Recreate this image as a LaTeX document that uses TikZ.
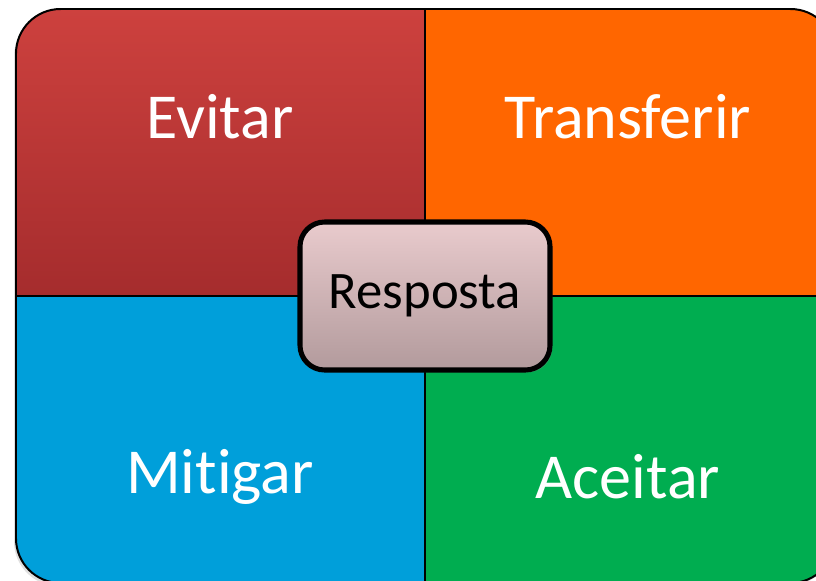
\documentclass[tikz,border=0pt]{standalone}
\usepackage{fontspec}
\setmainfont{Carlito}[RawFeature=-liga]
\usetikzlibrary{shadows}
\definecolor{evitartop}{RGB}{205,65,62}
\definecolor{evitarbottom}{RGB}{165,44,45}
\definecolor{transforange}{RGB}{255,102,0}
\definecolor{mitigblue}{RGB}{0,159,218}
\definecolor{aceitgreen}{RGB}{0,173,80}
\definecolor{resptop}{RGB}{233,203,205}
\definecolor{respbottom}{RGB}{178,154,156}

\tikzset{
    quadlabel/.style={text=white, font=\fontsize{54.7}{62}\selectfont},
    centerbox/.style={draw=black, line width=4.3pt, rounded corners=21pt,
        top color=resptop, bottom color=respbottom,
        minimum width=7.5cm, minimum height=4.44cm,
        drop shadow={shadow xshift=2pt, shadow yshift=-2pt, opacity=0.35},
        font=\fontsize{45}{52}\selectfont}
}

\begin{document}
\begin{tikzpicture}[x=0.03cm, y=-0.03cm]
    \useasboundingbox (0,0) rectangle (816,580);

    % soft shadow under the whole matrix
    \fill[black!12, rounded corners=38pt] (14,12) rectangle (833,586);

    % the four quadrants, clipped to one rounded outline
    \begin{scope}
        \clip[rounded corners=38pt] (16,9) rectangle (835,583);
        \shade[top color=evitartop, bottom color=evitarbottom] (16,9) rectangle (425,296);
        \fill[transforange] (425,9) rectangle (835,296);
        \fill[mitigblue] (16,296) rectangle (425,583);
        \fill[aceitgreen] (425,296) rectangle (835,583);
        % thin dividers
        \draw[black, line width=0.9pt] (425,9) -- (425,583);
        \draw[black, line width=0.9pt] (16,296) -- (835,296);
    \end{scope}
    \draw[black, line width=1.7pt, rounded corners=38pt] (16,9) rectangle (835,583);

    % quadrant labels
    \foreach \name/\px/\py/\word in {evitar/220/117/Evitar, transferir/628/117/Transferir,
                                     mitigar/220/477/Mitigar, aceitar/628/477/Aceitar} {
        \node[quadlabel] (\name) at (\px,\py) {\word};
    }

    % central box
    \node[centerbox] (resposta) at (425,296) {Resposta};
\end{tikzpicture}
\end{document}
